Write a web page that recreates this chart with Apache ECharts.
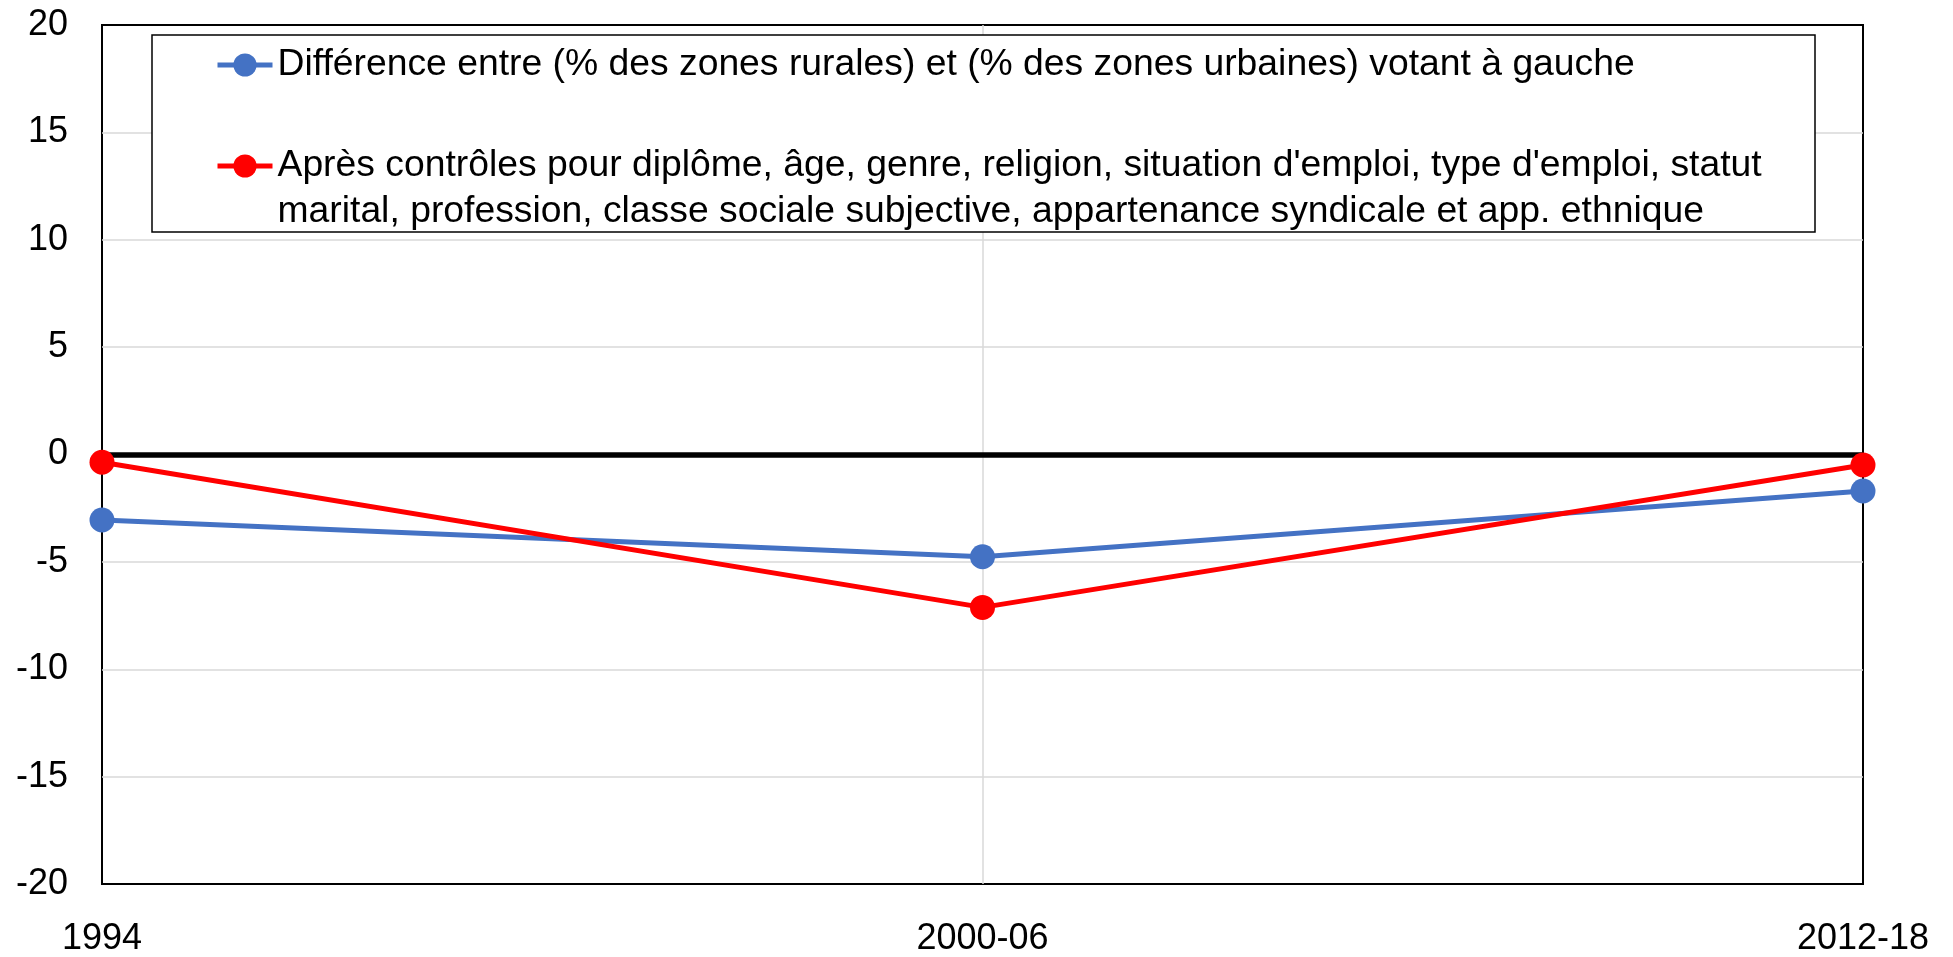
<!DOCTYPE html>
<html>
<head>
<meta charset="utf-8">
<script src="https://cdn.jsdelivr.net/npm/echarts@6/dist/echarts.min.js"></script>
<style>
  html, body { margin: 0; padding: 0; background: #fff; }
  #chart { width: 1953px; height: 957px; }
</style>
</head>
<body>
<div id="chart"></div>
<script>
const categories = ['1994', '2000-06', '2012-18']
const rawGap = [-3.05, -4.76, -1.7]
const afterControls = [-0.36, -7.12, -0.49]
const seriesNames = [
  'Différence entre (% des zones rurales) et (% des zones urbaines) votant à gauche',
  'Après contrôles pour diplôme, âge, genre, religion, situation d\'emploi, type d\'emploi, statut\nmarital, profession, classe sociale subjective, appartenance syndicale et app. ethnique'
]
const yTicks = { min: -20, max: 20, interval: 5 }

const font = "'Liberation Sans', Arial, sans-serif"
const chart = echarts.init(document.getElementById('chart'))

chart.setOption({
  animation: false,
  grid: {
    left: 102, right: 90, top: 25, bottom: 73,
    show: true, borderColor: '#000', borderWidth: 2, backgroundColor: 'transparent'
  },
  graphic: [{
    type: 'rect', z: 3,
    shape: { x: 152, y: 35, width: 1663, height: 197 },
    style: { fill: '#fff', stroke: '#000', lineWidth: 1.5 }
  }],
  legend: {
    orient: 'vertical', left: 215, top: 42, padding: 0, z: 5,
    itemWidth: 55, itemHeight: 29, itemGap: 9,
    selectedMode: false,
    lineStyle: { width: 5 },
    textStyle: { fontSize: 37.3, lineHeight: 46, fontFamily: font, color: '#000' },
    // leading empty line keeps the icon level with the first text line
    formatter: name => name.indexOf('\n') >= 0 ? '\n' + name : name
  },
  xAxis: {
    type: 'category', data: categories, boundaryGap: false,
    axisLine: { show: false }, axisTick: { show: false },
    axisLabel: { fontSize: 36, fontFamily: font, color: '#000', margin: 37 },
    splitLine: { show: true, showMinLine: false, showMaxLine: false, lineStyle: { color: '#d9d9d9', width: 1.5 } }
  },
  yAxis: {
    type: 'value', min: yTicks.min, max: yTicks.max, interval: yTicks.interval,
    axisLine: { show: false }, axisTick: { show: false },
    axisLabel: { fontSize: 36, fontFamily: font, color: '#000', margin: 34 },
    splitLine: { showMinLine: false, showMaxLine: false, lineStyle: { color: '#d9d9d9', width: 1.5 } }
  },
  series: [
    {
      name: seriesNames[0], type: 'line', data: rawGap,
      symbol: 'circle', symbolSize: 25, z: 3,
      lineStyle: { color: '#4472C4', width: 5 },
      itemStyle: { color: '#4472C4' },
      markLine: {
        silent: true, symbol: 'none', z: 1, label: { show: false },
        lineStyle: { color: '#000', width: 5.5, type: 'solid' },
        data: [{ yAxis: 0 }]
      }
    },
    {
      name: seriesNames[1], type: 'line', data: afterControls,
      symbol: 'circle', symbolSize: 25, z: 3,
      lineStyle: { color: '#FF0000', width: 5 },
      itemStyle: { color: '#FF0000' }
    }
  ]
})
</script>
</body>
</html>
